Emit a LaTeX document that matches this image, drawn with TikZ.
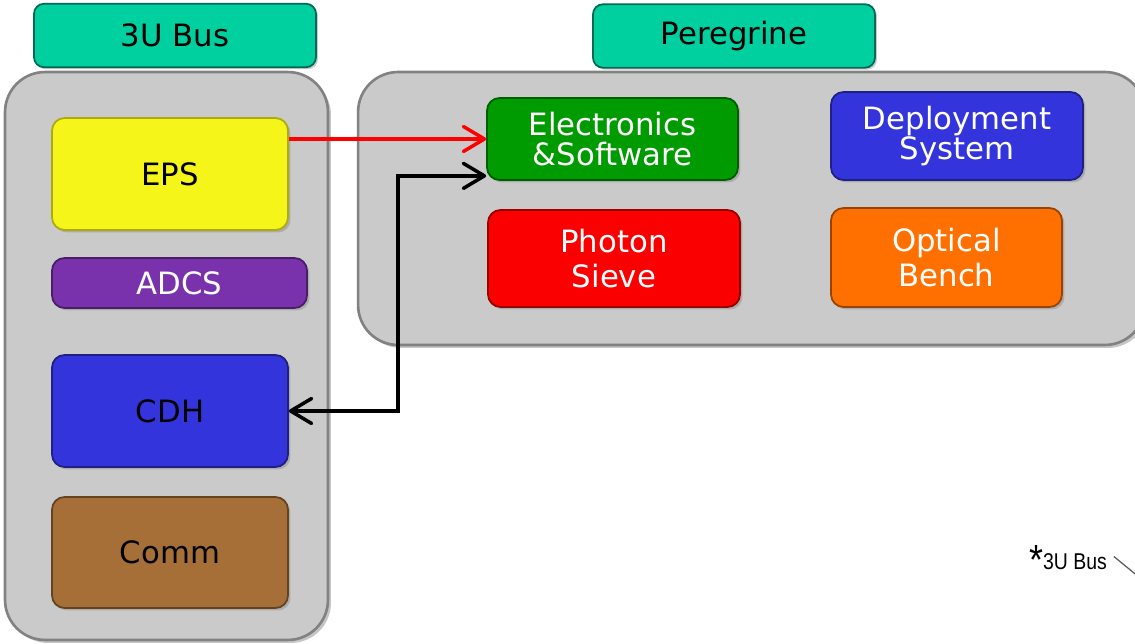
\documentclass[tikz,border=0pt]{standalone}
\usepackage{fontspec}
\usepackage{tikz}
\usetikzlibrary{arrows.meta,shadows}
\newfontfamily\boxfont{DejaVu Sans}
\newfontfamily\notefont{Liberation Sans}

\definecolor{headteal}{RGB}{0,208,160}
\definecolor{headedge}{RGB}{0,105,85}
\definecolor{panelgray}{RGB}{202,202,202}
\definecolor{paneledge}{RGB}{130,130,130}
\definecolor{epsyellow}{RGB}{245,245,25}
\definecolor{adcspurple}{RGB}{122,50,172}
\definecolor{cdhblue}{RGB}{52,52,220}
\definecolor{commbrown}{RGB}{166,111,56}
\definecolor{elecgreen}{RGB}{0,155,0}
\definecolor{sievered}{RGB}{250,0,0}
\definecolor{benchorange}{RGB}{255,112,0}

\begin{document}
\begin{tikzpicture}[x=0.02cm,y=-0.02cm]
      \useasboundingbox (0,0) rectangle (1135,644);
      % grey panels
      \begin{scope}[every node/.style={draw=paneledge,line width=1.5pt,fill=panelgray,
          rounded corners=0.8cm,inner sep=0pt,
          drop shadow={shadow xshift=0.06cm,shadow yshift=-0.06cm,opacity=0.45}}]
        \node[minimum width=6.46cm,minimum height=11.36cm] (buspanel) at (166.5,356) {};
        \node[minimum width=15.74cm,minimum height=5.46cm] (perpanel) at (751.5,208.5) {};
      \end{scope}
      % headers
      \begin{scope}[every node/.style={draw=headedge,line width=1pt,fill=headteal,
          rounded corners=0.2cm,minimum width=5.64cm,minimum height=1.27cm,
          font=\boxfont\fontsize{17.5}{19}\selectfont,
          drop shadow={shadow xshift=0.04cm,shadow yshift=-0.04cm,opacity=0.4}}]
        \node (bushead) at (175,35.5) {3U Bus};
        \node (perhead) at (734,36) {Peregrine};
      \end{scope}
      % subsystem boxes
      \begin{scope}[every node/.style={line width=1pt,rounded corners=0.25cm,
          align=center,inner sep=0pt,font=\boxfont\fontsize{17.5}{19}\selectfont,
          drop shadow={shadow xshift=0.05cm,shadow yshift=-0.05cm,opacity=0.4}}]
        \node[fill=epsyellow,draw=epsyellow!70!black,minimum width=4.72cm,minimum height=2.24cm] (EPS) at (170,174) {EPS};
        \node[fill=adcspurple,draw=adcspurple!60!black,text=white,minimum width=5.1cm,minimum height=1.0cm] (ADCS) at (179.5,283) {ADCS};
        \node[fill=cdhblue,draw=cdhblue!60!black,minimum width=4.72cm,minimum height=2.24cm] (CDH) at (170,411) {CDH};
        \node[fill=commbrown,draw=commbrown!60!black,minimum width=4.72cm,minimum height=2.22cm] (Comm) at (170,552.5) {Comm};
        \node[fill=elecgreen,draw=elecgreen!60!black,text=white,minimum width=5.02cm,minimum height=1.64cm] (Elec) at (612.5,139) {Electronics\\[-2pt]\&Software};
        \node[fill=cdhblue,draw=cdhblue!60!black,text=white,minimum width=5.04cm,minimum height=1.76cm] (Deploy) at (957,136) {Deployment\\[-2pt]System};
        \node[fill=sievered,draw=sievered!60!black,text=white,minimum width=5.04cm,minimum height=1.94cm] (Sieve) at (614,258.5) {Photon\\[1pt]Sieve};
        \node[fill=benchorange,draw=benchorange!60!black,text=white,minimum width=4.62cm,minimum height=1.98cm] (Bench) at (946.5,257.5) {Optical\\[1pt]Bench};
      \end{scope}
      % links
      \coordinate (jog) at (398,0);
      \begin{scope}[>={Straight Barb[length=0.42cm,width=0.5cm,round]},
          line width=2pt]
        \draw[->,red] (EPS.east |- Elec.west) -- (Elec.west);
        \draw[<->,black] (CDH.east) -- (CDH.east -| jog) |- ([yshift=0.1cm]Elec.south west);
      \end{scope}
      % footnote
      \node[font=\notefont\fontsize{13}{14}\selectfont,xscale=0.85,inner sep=1pt] (note) at (1068,560) {\raisebox{-3pt}{\fontsize{24}{24}\selectfont*}3U Bus};
      \coordinate (noteend) at (1140,578);
      \draw[gray!70!black,line width=0.7pt] ([xshift=3pt,yshift=2pt]note.east) -- (noteend);
\end{tikzpicture}
\end{document}
